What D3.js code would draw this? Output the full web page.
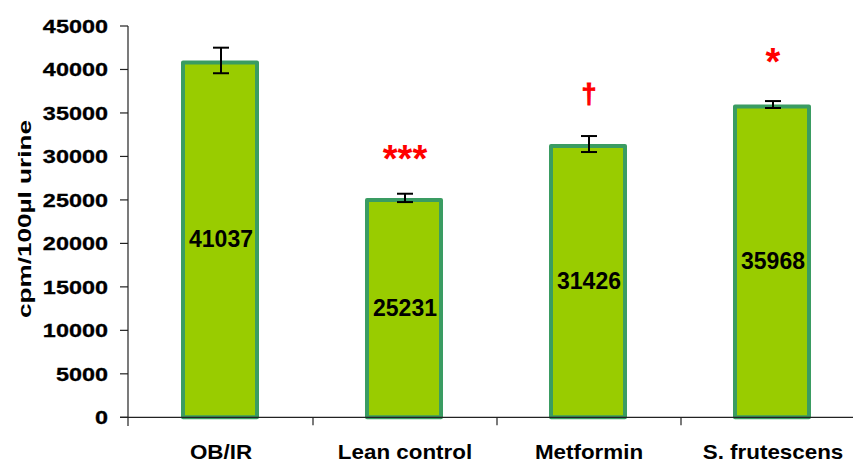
<!DOCTYPE html>
<html>
<head>
<meta charset="utf-8">
<script src="https://cdn.jsdelivr.net/npm/d3@7"></script>
<style>
  html, body { margin: 0; padding: 0; background: #fff; }
  svg { display: block; font-family: "Liberation Sans", Arial, sans-serif; }
</style>
</head>
<body>
<svg id="chart" width="853" height="464"></svg>
<script>
// Urinary counts per group (mean ± error)
const categories = ["OB/IR", "Lean control", "Metformin", "S. frutescens"];
const means = [41037, 25231, 31426, 35968];
const errors = [1470, 480, 920, 400];
// Significance symbols and the level (in y units) where each sits
const sigMarks = ["", "***", "\u2020", "*"];
const sigLevels = [null, 28250, 36150, 39330];
const yTicks = [0, 5000, 10000, 15000, 20000, 25000, 30000, 35000, 40000, 45000];

const svg = d3.select("#chart");

const x0 = 129, bandW = 184;
const x = d3.scaleBand()
  .domain(categories)
  .range([x0, x0 + bandW * categories.length])
  .paddingInner(0)
  .paddingOuter(0);

const y = d3.scaleLinear().domain([0, 45000]).range([417.3, 26]);

const axisColor = "#222";

// Bars
const barW = 74;
const bars = svg.append("g");
categories.forEach((c, i) => {
  const cx = x(c) + x.bandwidth() / 2 - 1;
  bars.append("rect")
    .attr("x", cx - barW / 2)
    .attr("y", y(means[i]) + 2)
    .attr("width", barW)
    .attr("height", y(0) - y(means[i]) - 2)
    .attr("fill", "#99CC00")
    .attr("stroke", "#3A9C62")
    .attr("stroke-width", 4)
    .attr("stroke-linejoin", "round");
});

// Y axis
const yAxis = svg.append("g");
yAxis.append("line")
  .attr("x1", 128).attr("x2", 128)
  .attr("y1", y(45000)).attr("y2", 426)
  .attr("stroke", axisColor).attr("stroke-width", 1.2);
yTicks.forEach(t => {
  yAxis.append("line")
    .attr("x1", 120).attr("x2", 128)
    .attr("y1", y(t)).attr("y2", y(t))
    .attr("stroke", axisColor).attr("stroke-width", 1.2);
  yAxis.append("g")
    .attr("transform", `translate(108,${y(t)}) scale(1.26,1)`)
    .append("text")
    .attr("text-anchor", "end")
    .attr("dy", "0.36em")
    .attr("font-size", 18.6)
    .attr("font-weight", "bold")
    .attr("fill", "#000")
    .attr("stroke", "#000")
    .attr("stroke-width", 0.3)
    .text(t);
});

// X axis
const xAxis = svg.append("g");
xAxis.append("line")
  .attr("x1", 120).attr("x2", 853)
  .attr("y1", y(0)).attr("y2", y(0))
  .attr("stroke", axisColor).attr("stroke-width", 1.2);
categories.slice(1).forEach(c => {
  xAxis.append("line")
    .attr("x1", x(c)).attr("x2", x(c))
    .attr("y1", y(0)).attr("y2", y(0) + 8)
    .attr("stroke", axisColor).attr("stroke-width", 1.2);
});
categories.forEach(c => {
  xAxis.append("g")
    .attr("transform", `translate(${x(c) + x.bandwidth() / 2},459) scale(1.12,1)`)
    .append("text")
    .attr("text-anchor", "middle")
    .attr("font-size", 20)
    .attr("font-weight", "bold")
    .attr("fill", "#000")
    .text(c);
});

// Y axis title
svg.append("text")
  .attr("transform", `translate(31,219) rotate(-90)`)
  .attr("text-anchor", "middle")
  .attr("font-size", 19)
  .attr("font-weight", "bold")
  .attr("fill", "#000")
  .attr("textLength", 198)
  .attr("lengthAdjust", "spacingAndGlyphs")
  .text("cpm/100\u00b5l urine");

// Error bars
const eb = svg.append("g").attr("stroke", "#000").attr("stroke-width", 2);
categories.forEach((c, i) => {
  const cx = x(c) + x.bandwidth() / 2;
  const top = y(means[i] + errors[i]);
  const bot = y(means[i] - errors[i]);
  eb.append("line").attr("x1", cx).attr("x2", cx).attr("y1", top).attr("y2", bot);
  eb.append("line").attr("x1", cx - 8).attr("x2", cx + 8).attr("y1", top).attr("y2", top);
  eb.append("line").attr("x1", cx - 8).attr("x2", cx + 8).attr("y1", bot).attr("y2", bot);
});

// Value labels at mid-height of each bar
categories.forEach((c, i) => {
  svg.append("text")
    .attr("x", x(c) + x.bandwidth() / 2)
    .attr("y", y(means[i] / 2))
    .attr("dy", "0.36em")
    .attr("text-anchor", "middle")
    .attr("font-size", 23)
    .attr("font-weight", "bold")
    .attr("fill", "#000")
    .text(means[i]);
});

// Significance symbols
categories.forEach((c, i) => {
  if (!sigMarks[i]) return;
  const isDagger = sigMarks[i] === "\u2020";
  svg.append("text")
    .attr("x", x(c) + x.bandwidth() / 2)
    .attr("y", y(sigLevels[i]))
    .attr("text-anchor", "middle")
    .attr("font-size", isDagger ? 27 : 38)
    .attr("font-weight", "bold")
    .attr("fill", "#FF0000")
    .attr("stroke", "#FF0000")
    .attr("stroke-width", isDagger ? 1 : 0)
    .text(sigMarks[i]);
});
</script>
</body>
</html>
